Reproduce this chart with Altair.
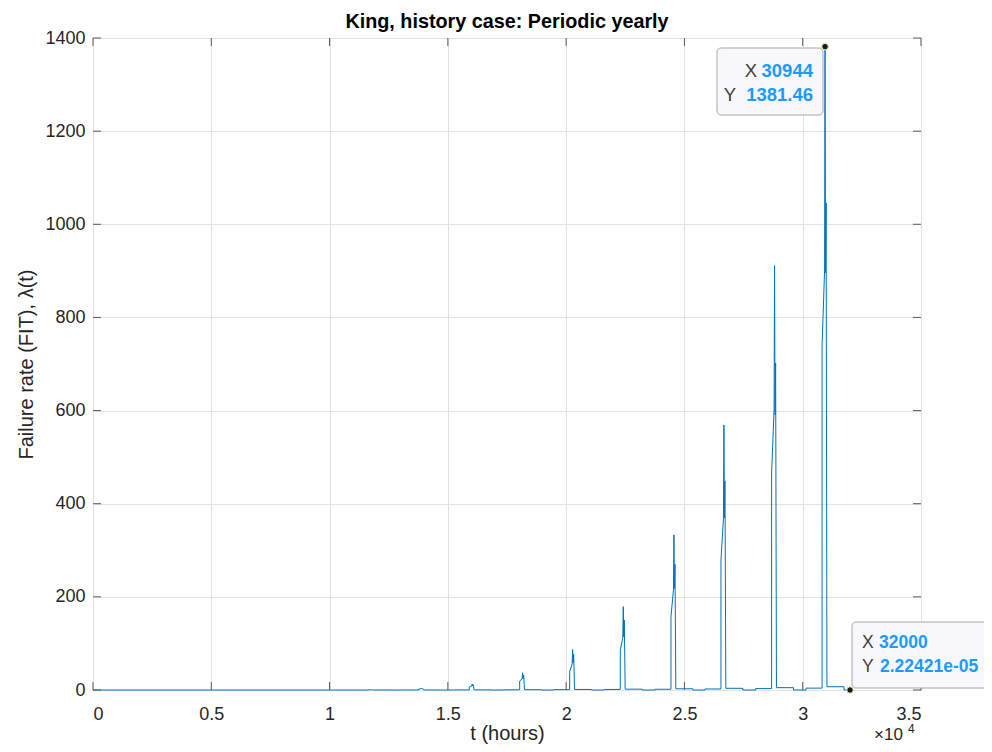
import altair as alt
import pandas as pd

# ---- data ----
peak_t   = [11760, 13890, 16030, 18160, 20274, 22414, 24556, 26669, 28810, 30944]
rise_v   = [0.4, 2.0, 6.5, 19, 39, 86, 157, 279, 466, 740]
ramp_v   = [0.5, 2.6, 8.5, 24, 56, 112, 215, 368, 601, 900]
peak_v   = [0.8, 4.0, 13, 37, 87, 179, 333, 569, 911, 1381.46]
dip_v    = [0.5, 2.6, 8.5, 24, 58, 114, 218, 369, 591, 896]
second_v = [0.7, 3.4, 11, 32, 77, 150, 270, 449, 702, 1046]
pre_v    = [0.0, 0.05, 0.2, 0.4, 0.8, 1.2, 1.6, 2.2, 3.0, 4.0]
post_v   = [0.02, 0.1, 0.3, 0.7, 1.2, 1.8, 2.6, 3.6, 5.0, 7.0]
# time offsets (hours) of the spike shape relative to each peak
off_pre, off_rise, off_ramp, off_dip, off_second, off_fall, off_post = -800, -125, -20, 20, 45, 80, 800
t_start, t_end, y_end = 0, 32000, 2.22421e-05

x_ticks = [0, 5000, 10000, 15000, 20000, 25000, 30000, 35000]
y_ticks = [0, 200, 400, 600, 800, 1000, 1200, 1400]

tip_x = [30944, 32000]
tip_y = [1381.46, 2.22421e-05]

# ---- build polyline ----
pts = [(t_start, 0.0)]
for i, t in enumerate(peak_t):
    pts += [(t + off_pre, 0.0), (t + off_pre, pre_v[i]),
            (t + off_rise, pre_v[i]), (t + off_rise, rise_v[i]),
            (t + off_ramp, ramp_v[i]), (t, peak_v[i]),
            (t + off_dip, dip_v[i]), (t + off_second, second_v[i]),
            (t + off_fall, post_v[i]), (t + off_post, post_v[i]),
            (t + off_post, 0.0)]
pts.append((t_end, y_end))
df = pd.DataFrame({"t": [p[0] for p in pts], "y": [p[1] for p in pts],
                   "i": list(range(len(pts)))})

FONT = "Liberation Sans"
W, H = 828, 652
AX = "#5a5a5a"

xscale = alt.Scale(domain=[0, 35000], nice=False)
yscale = alt.Scale(domain=[0, 1400], nice=False)

line = alt.Chart(df).mark_line(color="#0072BD", strokeWidth=1, interpolate="linear").encode(
    x=alt.X("t:Q", scale=xscale, title="t (hours)",
            axis=alt.Axis(values=x_ticks, labelExpr="format(datum.value/10000, '~g')",
                          labelPadding=15, titleY=43, titleBaseline="middle",
                          ticks=False, tickSize=0, domain=False, grid=True)),
    y=alt.Y("y:Q", scale=yscale, title="Failure rate (FIT), λ(t)",
            axis=alt.Axis(values=y_ticks, format="d", labelPadding=8, titlePadding=8,
                          ticks=False, tickSize=0, domain=False, grid=True)),
    order=alt.Order("i:Q"),
)

xt = pd.DataFrame({"v": x_ticks})
yt = pd.DataFrame({"v": y_ticks})
tick_b = alt.Chart(xt).mark_rule(color=AX, strokeWidth=1).encode(
    x=alt.X("v:Q", scale=xscale), y=alt.value(H), y2=alt.value(H - 8))
tick_t = alt.Chart(xt).mark_rule(color=AX, strokeWidth=1).encode(
    x=alt.X("v:Q", scale=xscale), y=alt.value(0), y2=alt.value(8))
tick_l = alt.Chart(yt).mark_rule(color=AX, strokeWidth=1).encode(
    y=alt.Y("v:Q", scale=yscale), x=alt.value(0), x2=alt.value(8))
tick_r = alt.Chart(yt).mark_rule(color=AX, strokeWidth=1).encode(
    y=alt.Y("v:Q", scale=yscale), x=alt.value(W), x2=alt.value(W - 8))

# exponent label
exp_base = alt.Chart(pd.DataFrame({"s": ["×10"]})).mark_text(
    font=FONT, fontSize=17, color="#262626", align="left", baseline="middle").encode(
    text="s:N", x=alt.value(781), y=alt.value(697))
exp_pow = alt.Chart(pd.DataFrame({"s": ["4"]})).mark_text(
    font=FONT, fontSize=12, color="#262626", align="left", baseline="middle").encode(
    text="s:N", x=alt.value(815), y=alt.value(691))

# datatip boxes
box1 = alt.Chart(pd.DataFrame({"a": [0]})).mark_rect(
    fill="#f8f8fc", stroke="#a8a8a8", strokeWidth=1, cornerRadius=4).encode(
    x=alt.value(624), x2=alt.value(730), y=alt.value(10), y2=alt.value(77))
box2 = alt.Chart(pd.DataFrame({"a": [0]})).mark_rect(
    fill="#f8f8fc", stroke="#a8a8a8", strokeWidth=1, cornerRadius=4).encode(
    x=alt.value(759), x2=alt.value(900), y=alt.value(584), y2=alt.value(650))

def txt(s, x, y, color, bold, align, size=18.5):
    return alt.Chart(pd.DataFrame({"s": [s]})).mark_text(
        font=FONT, fontSize=size, color=color, fontWeight="bold" if bold else "normal",
        align=align, baseline="middle").encode(text="s:N", x=alt.value(x), y=alt.value(y))

BLUE = "#1a9bff"
GRAY = "#404040"
tips_text = [
    txt("X", 664, 33, GRAY, False, "right"),
    txt("30944", 720, 33, BLUE, True, "right"),
    txt("Y", 643, 57, GRAY, False, "right"),
    txt("1381.46", 720, 57, BLUE, True, "right"),
    txt("X", 769, 605, GRAY, False, "left", 17.5),
    txt("32000", 786, 605, BLUE, True, "left", 17.5),
    txt("Y", 769, 629, GRAY, False, "left", 17.5),
    txt("2.22421e-05", 787, 629, BLUE, True, "left", 17.5),
]

dots = alt.Chart(pd.DataFrame({"x": tip_x, "y": tip_y})).mark_circle(
    color="#1a1a1a", opacity=1, size=42, stroke="#f3eeb0", strokeWidth=1).encode(
    x=alt.X("x:Q", scale=xscale), y=alt.Y("y:Q", scale=yscale))

chart = alt.layer(line, tick_b, tick_t, tick_l, tick_r, exp_base, exp_pow,
                  box1, box2, *tips_text, dots).properties(
    width=W, height=H,
    title=alt.TitleParams("King, history case: Periodic yearly", font=FONT, fontSize=19.8,
                          fontWeight="bold", color="#000000", anchor="middle",
                          frame="group", offset=0, dy=3),
    autosize=alt.AutoSizeParams(type="none"),
    padding={"left": 85, "top": 30, "right": 63, "bottom": 54},
).configure_view(stroke=AX, strokeWidth=1).configure_axis(
    labelFont=FONT, labelFontSize=18, labelColor="#262626",
    titleFont=FONT, titleFontSize=20, titleFontWeight="normal", titleColor="#262626",
    gridColor="#e2e2e2", gridWidth=1,
)

chart.save("out.html", embed_options={"renderer": "svg", "actions": False})
